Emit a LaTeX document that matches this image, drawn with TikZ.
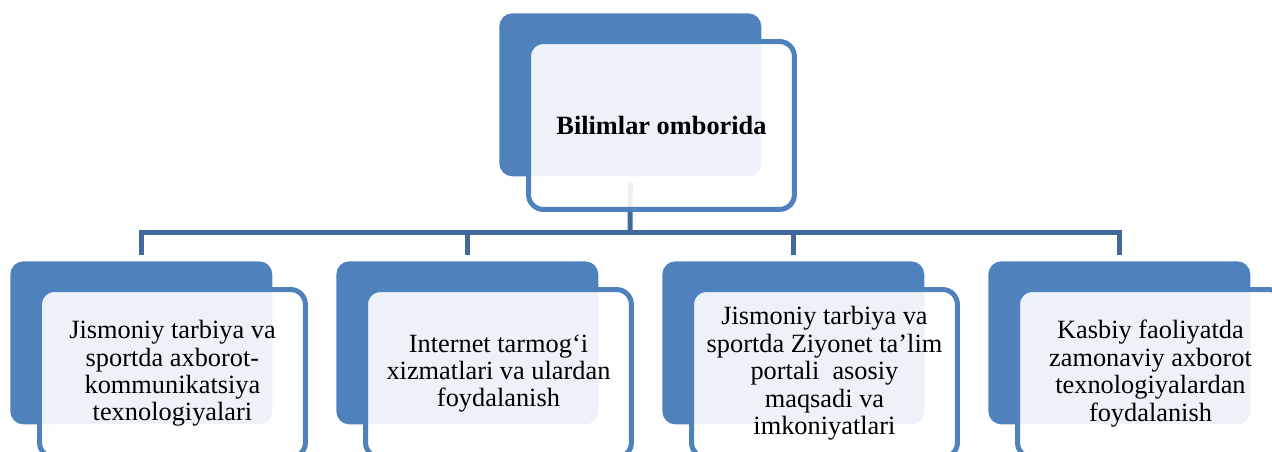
\documentclass[tikz,border=0pt]{standalone}
\usepackage{fontspec}
\setmainfont{Liberation Serif}
\usetikzlibrary{positioning}
\definecolor{boxblue}{HTML}{4F81BD}
\definecolor{linkblue}{HTML}{41699B}

\begin{document}
\begin{tikzpicture}[
    x=0.02cm, y=-0.02cm,
    back/.style={rectangle, fill=boxblue, minimum width=5.24cm, minimum height=3.26cm, rounded corners=0.26cm, anchor=north west, inner sep=0pt},
    panel/.style={rectangle, draw=boxblue, line width=0.1cm, fill=white, fill opacity=0.9, text opacity=1, minimum width=5.32cm, minimum height=3.36cm, rounded corners=0.3cm, anchor=north west, align=center, inner sep=0pt, font=\fontsize{15}{15.6}\selectfont},
    link/.style={draw=linkblue, line width=0.1cm}
]
\clip (0,0) rectangle (1272,451);

\node [back] (rootback) at (499,13) {};
\node [back] (leafback1) at (10,261) {};
\node [back] (leafback2) at (336,261) {};
\node [back] (leafback3) at (662,261) {};
\node [back] (leafback4) at (988,261) {};

\coordinate (bus) at (630,232);
\path [link] ([yshift=-0.12cm]rootback.south) -- (bus);
\path [link] (bus) -| ([yshift=0.12cm]leafback1.north);
\path [link] (bus) -| ([yshift=0.12cm]leafback2.north);
\path [link] (bus) -| ([yshift=0.12cm]leafback3.north);
\path [link] (bus) -| ([yshift=0.12cm]leafback4.north);

\node [panel] (root) at ([shift={(27,26)}]rootback.north west) {\textbf{Bilimlar omborida}};
\node [panel] (leaf1) at ([shift={(27,26)}]leafback1.north west) {Jismoniy tarbiya va\\sportda axborot-\\kommunikatsiya\\texnologiyalari};
\node [panel] (leaf2) at ([shift={(27,26)}]leafback2.north west) {Internet tarmog‘i\\xizmatlari va ulardan\\foydalanish};
\node [panel] (leaf3) at ([shift={(27,26)}]leafback3.north west) {Jismoniy tarbiya va\\sportda Ziyonet ta’lim\\portali\ \ asosiy\\maqsadi va\\imkoniyatlari};
\node [panel] (leaf4) at ([shift={(27,26)}]leafback4.north west) {Kasbiy faoliyatda\\zamonaviy axborot\\texnologiyalardan\\foydalanish};

\end{tikzpicture}
\end{document}
